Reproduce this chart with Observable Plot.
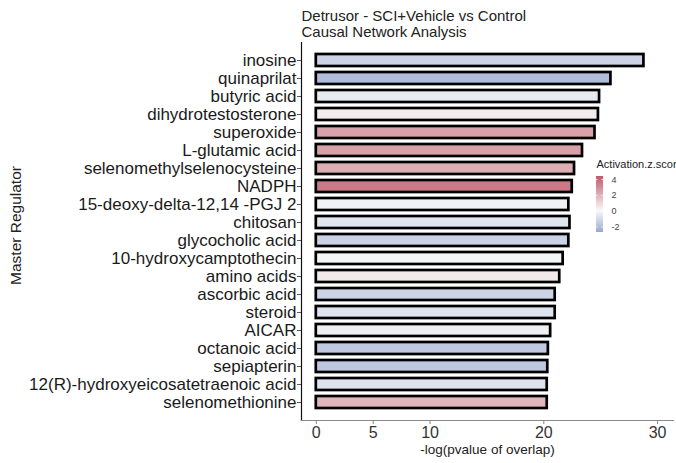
<!DOCTYPE html>
<html>
<head>
<meta charset="utf-8">
<script src="https://cdn.jsdelivr.net/npm/d3@7"></script>
<script src="https://cdn.jsdelivr.net/npm/@observablehq/plot@0.6"></script>
<style>
  html, body { margin: 0; padding: 0; background: white; overflow: hidden; }
  #wrap { position: relative; width: 676px; height: 463px; font-family: "Liberation Sans", Arial, sans-serif; }
  #legend { position: absolute; left: 590px; top: 150px; }
</style>
</head>
<body>
<div id="wrap"><div id="main"></div><div id="legend"></div></div>
<script>
const regulators = ["inosine","quinaprilat","butyric acid","dihydrotestosterone","superoxide","L-glutamic acid","selenomethylselenocysteine","NADPH","15-deoxy-delta-12,14 -PGJ 2","chitosan","glycocholic acid","10-hydroxycamptothecin","amino acids","ascorbic acid","steroid","AICAR","octanoic acid","sepiapterin","12(R)-hydroxyeicosatetraenoic acid","selenomethionine"];
const negLogP = [28.8, 25.9, 24.9, 24.8, 24.5, 23.4, 22.7, 22.5, 22.2, 22.3, 22.2, 21.7, 21.4, 21.0, 21.0, 20.6, 20.4, 20.35, 20.3, 20.3];
const zScore = [-0.86, -1.4, -0.32, 0.24, 1.67, 1.7, 1.45, 2.46, -0.12, -0.43, -0.89, -0.05, 0.28, -0.84, -0.49, -0.16, -1.1, -1.15, -0.51, 1.28];
const xTicks = [0, 5, 10, 20, 30];
const legendTicks = [-2, 0, 2, 4];
const titleLines = ["Detrusor - SCI+Vehicle vs Control", "Causal Network Analysis"];

const data = regulators.map((name, i) => ({name, p: negLogP[i], z: zScore[i]}));
const colorScale = {type: "linear", domain: [-2.7, 0, 4.4], range: ["#6f87c0", "#f7f7f7", "#a8162c"], interpolate: "rgb"};
const font = "Liberation Sans, Arial, sans-serif";

const main = Plot.plot({
  width: 676, height: 463,
  marginLeft: 301, marginRight: 3, marginTop: 42, marginBottom: 43,
  style: {fontFamily: font, background: "transparent", overflow: "visible"},
  x: {domain: [-1.3, 31.4]},
  y: {domain: regulators, paddingInner: 0.33, paddingOuter: 0.265},
  color: colorScale,
  marks: [
    Plot.barX(data, {x: "p", y: "name", fill: "z", stroke: "black", strokeWidth: 2.7}),
    Plot.frame({anchor: "left", stroke: "#111", strokeWidth: 1.2}),
    Plot.frame({anchor: "bottom", stroke: "#888", strokeWidth: 1.2}),
    Plot.axisY({tickSize: 4, tickPadding: 1, fontSize: 17, color: "#1a1a1a", stroke: "#555", label: null}),
    Plot.axisX({ticks: xTicks, tickSize: 4, tickPadding: 2, fontSize: 16, color: "#333", stroke: "#888", label: null}),
    Plot.text(["-log(pvalue of overlap)"], {frameAnchor: "bottom", dy: 33, fontSize: 13.5, fill: "#222"}),
    Plot.text(["Master Regulator"], {frameAnchor: "left", textAnchor: "middle", rotate: -90, dx: -285, dy: -6, fontSize: 15.5, fill: "#222"}),
    Plot.text([titleLines[0]], {frameAnchor: "top-left", dy: -32, textAnchor: "start", fontSize: 15, fill: "#222"}),
    Plot.text([titleLines[1]], {frameAnchor: "top-left", dy: -16, textAnchor: "start", fontSize: 15, fill: "#222"})
  ]
});
document.getElementById("main").append(main);

const steps = d3.range(-2.7, 4.4, 0.05).map(v => ({v, v2: Math.min(v + 0.05, 4.4)}));
const legend = Plot.plot({
  width: 86, height: 90,
  marginLeft: 6, marginRight: 73, marginTop: 26, marginBottom: 8,
  style: {fontFamily: font, background: "transparent", overflow: "visible"},
  x: {domain: [0, 1], axis: null},
  y: {domain: [-2.7, 4.4]},
  color: colorScale,
  marks: [
    Plot.rect(steps, {x1: 0, x2: 1, y1: "v", y2: "v2", fill: "v"}),
    Plot.ruleY(legendTicks, {x1: 0, x2: 0.22, stroke: "white", strokeWidth: 0.8}),
    Plot.ruleY(legendTicks, {x1: 0.78, x2: 1, stroke: "white", strokeWidth: 0.8}),
    Plot.axisY({ticks: legendTicks, tickFormat: d => String(d), anchor: "right", tickSize: 0, tickPadding: 8, fontSize: 9, color: "#444", label: null}),
    Plot.text(["Activation.z.score"], {frameAnchor: "top-left", dy: -16, textAnchor: "start", fontSize: 11, fill: "#222"})
  ]
});
document.getElementById("legend").append(legend);
</script>
</body>
</html>
